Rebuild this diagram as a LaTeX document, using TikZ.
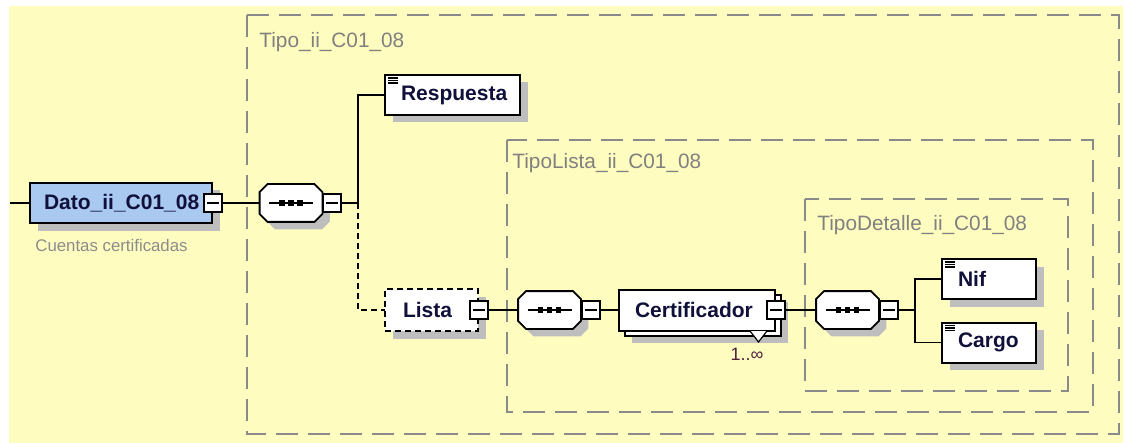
\documentclass[tikz,border=0pt]{standalone}
\usepackage{fontspec}
\setmainfont{Liberation Sans}
\usetikzlibrary{shadows}
\definecolor{bgyellow}{HTML}{FFFCC0}
\definecolor{datoblue}{HTML}{A9C9F1}
\definecolor{shadowgray}{HTML}{BEBEBE}
\definecolor{dashgray}{HTML}{8A8A8A}
\definecolor{labelgray}{HTML}{808080}
\definecolor{capgray}{HTML}{8C8C8C}
\definecolor{nametext}{HTML}{10103A}
\definecolor{multcolor}{HTML}{502040}
\newcommand\octo[4]{\path[#4] ([shift={(#2+4pt,#3)}]#1.north west) -- ([shift={(#2-4pt,#3)}]#1.north east) -- ([shift={(#2,#3-4pt)}]#1.north east) -- ([shift={(#2,#3+4pt)}]#1.south east) -- ([shift={(#2-4pt,#3)}]#1.south east) -- ([shift={(#2+4pt,#3)}]#1.south west) -- ([shift={(#2,#3+4pt)}]#1.south west) -- ([shift={(#2,#3-4pt)}]#1.north west) -- cycle;}
\newcommand\seqdraw[1]{%
  \octo{#1}{3.75pt}{-3.75pt}{fill=shadowgray}
  \octo{#1}{0pt}{0pt}{draw=black, line width=0.9pt, fill=white}
  \draw[line width=0.8pt] ([xshift=-11pt]#1.center) -- ([xshift=11pt]#1.center);
  \foreach \dx in {-4.5pt,0pt,4.5pt} \fill ([xshift=\dx]#1.center) +(-1.3pt,-1.3pt) rectangle +(1.3pt,1.3pt);
}
\begin{document}
\begin{tikzpicture}[x=0.5pt,y=-0.5pt,
  el/.style={draw=black, line width=1pt, fill=white, inner sep=0pt, align=left,
    font=\bfseries\fontsize{10.5}{12}\selectfont, text=nametext},
  sh/.style={general shadow={fill=shadowgray, shadow xshift=3.75pt, shadow yshift=-3.75pt}},
  leaf/.style={path picture={\foreach \yy in {1.5pt,2.75pt,4pt}{\draw[line width=0.55pt] ([shift={(1.5pt,-\yy)}]path picture bounding box.north west) -- ++(5pt,0pt);}}},
  minus/.style={draw=black, line width=0.8pt, fill=white, minimum width=9pt, minimum height=9pt, inner sep=0pt,
    path picture={\draw[line width=0.8pt] ([xshift=-3pt]path picture bounding box.center) -- ([xshift=3pt]path picture bounding box.center);}},
  seq/.style={minimum width=31pt, minimum height=18.5pt, inner sep=0pt},
  conn/.style={draw=black, line width=0.9pt},
  boxdash/.style={draw=dashgray, line width=1pt, dash pattern=on 11pt off 5pt},
  typelabel/.style={anchor=west, inner sep=0pt, font=\fontsize{10.4}{12}\selectfont, text=labelgray},
  caption/.style={anchor=west, inner sep=0pt, font=\fontsize{8.4}{10}\selectfont, text=capgray},
  mult/.style={inner sep=0pt, font=\fontsize{9}{11}\selectfont, text=multcolor}]
\useasboundingbox (0,0) rectangle (1128,443);
\fill[white] (0,0) rectangle (1128,443);
\fill[bgyellow] (9,6) rectangle (1123,443);
% type boxes
\draw[boxdash] (247,15) rectangle (1119,434);
\draw[boxdash] (507,140) rectangle (1093,412);
\draw[boxdash] (805,199) rectangle (1068,391);
\node[typelabel] (tOuter) at (259,42) {Tipo\_ii\_C01\_08};
\node[typelabel] (tLista) at (512,163) {TipoLista\_ii\_C01\_08};
\node[typelabel] (tDet) at (817,225) {TipoDetalle\_ii\_C01\_08};
% root element
\coordinate (in) at (10,203);
\node[el, sh, fill=datoblue, text width=91pt, minimum height=20pt] (dato) at (121,203) {\hspace*{7pt}Dato\_ii\_C01\_08};
\node[minus] (datom) at (dato.east) {};
\node[caption] (cap) at (35,245) {Cuentas certificadas};
\draw[conn] (in) -- (dato.west);
% sequence 1
\node[seq] (c1) at (291,203) {};
\seqdraw{c1}
\node[minus, anchor=west] (c1m) at (c1.east) {};
\draw[conn] (datom.east) -- (c1.west);
\coordinate (b1) at (358,203);
\draw[conn] (c1m.east) -- (b1);
% Respuesta
\node[el, sh, leaf, text width=67.5pt, minimum height=20pt] (resp) at (452.5,95) {\hspace*{8pt}Respuesta};
\draw[conn] (b1) |- (resp.west);
% Lista
\draw[conn, dash pattern=on 3pt off 2pt] (b1) |- (431.5,310) coordinate (listaw);
\node[el, sh, dash pattern=on 3pt off 2pt, text width=46.5pt, minimum height=21pt] (lista) at (431.5,310) {\hspace*{9pt}Lista};
\node[minus] (listam) at (lista.east) {};
% sequence 2
\node[seq] (c2) at (549.5,310) {};
\seqdraw{c2}
\node[minus, anchor=west] (c2m) at (c2.east) {};
\draw[conn] (listam.east) -- (c2.west);
% Certificador
\node[el, sh, text width=78pt, minimum height=20.5pt] (certb) at (702.5,315) {};
\node[el, text width=78pt, minimum height=20.5pt] (cert) at (697,310) {\hspace*{8pt}Certificador};
\draw[line width=0.6pt, fill=white] (750,331) -- (758.5,342) -- (767,331);
\node[minus] (certm) at (cert.east) {};
\node[mult] (certmul) at (747,354) {1..∞};
\draw[conn] (c2m.east) -- (cert.west);
% sequence 3
\node[seq] (c3) at (847.5,310) {};
\seqdraw{c3}
\node[minus, anchor=west] (c3m) at (c3.east) {};
\draw[conn] (certm.east) -- (c3.west);
\coordinate (b3) at (915,310);
\draw[conn] (c3m.east) -- (b3);
% Nif, Cargo
\node[el, sh, leaf, text width=47pt, minimum height=20pt] (nif) at (989,279) {\hspace*{8pt}Nif};
\node[el, sh, leaf, text width=47pt, minimum height=20pt] (cargo) at (989,342.5) {\hspace*{8pt}Cargo};
\draw[conn] (b3) |- (nif.west);
\draw[conn] (b3) |- (cargo.west);
\end{tikzpicture}
\end{document}
